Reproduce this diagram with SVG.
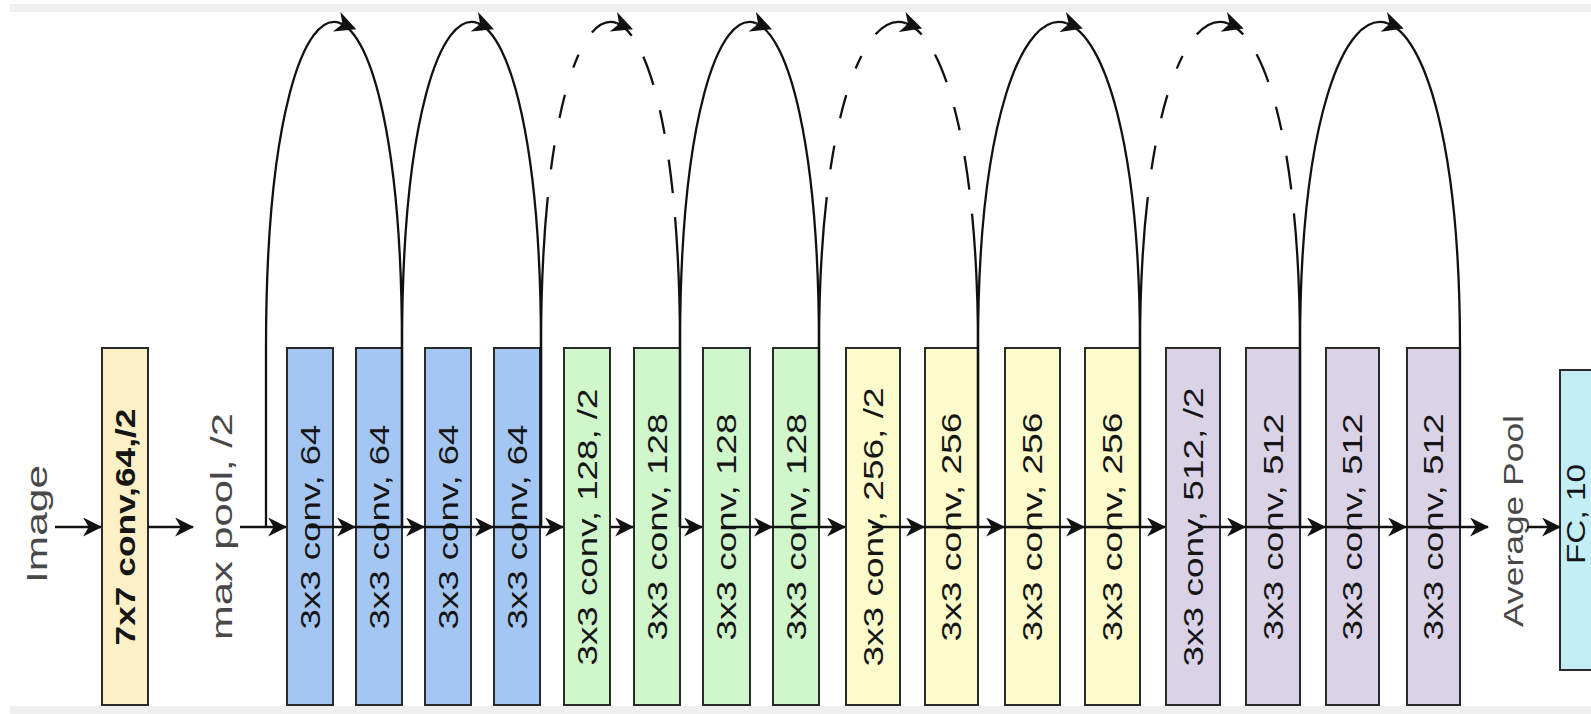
<svg xmlns="http://www.w3.org/2000/svg" width="1591" height="714" viewBox="0 0 1591 714">
<defs>
<marker id="arr" markerUnits="userSpaceOnUse" viewBox="0 0 17 17" markerWidth="19" markerHeight="19" refX="16" refY="8.5" orient="auto"><path d="M0,0 L17,8.5 L0,17 L5,8.5 Z" fill="#111"/></marker>
<marker id="arcArr" markerUnits="userSpaceOnUse" viewBox="0 0 17 17" markerWidth="21" markerHeight="21" refX="3" refY="8.5" orient="auto"><path d="M0,0 L17,8.5 L0,17 L5,8.5 Z" fill="#111"/></marker>
</defs>
<style>
.bx{stroke:#2a2a2a;stroke-width:2}
.beige{fill:#fcf0c6}
.blue{fill:#a4c6f2}
.green{fill:#d0f6cc}
.yel{fill:#fcfbcb}
.pur{fill:#dad3e7}
.cyan{fill:#c4eef6}
.t{font-family:"Liberation Sans",Arial,Helvetica,sans-serif;font-size:28px;fill:#151515;text-anchor:middle;dominant-baseline:central}
.b{font-weight:bold;font-size:28px}
.ext{fill:#484848;font-size:29px}
.ln{fill:none;stroke:#111;stroke-width:2.3}
.main{marker-end:url(#arr);stroke-width:2.5}
.arcL{marker-end:url(#arcArr)}
.dL{stroke-dasharray:330 28 24 28 24 28 14 26 80}
.dR{stroke-dasharray:20 24 30 26 24 26 34 24 1000}
</style>
<rect x="10" y="4" width="1581" height="8" fill="#efefef"/>
<rect x="10" y="706" width="1581" height="8" fill="#efefef"/>

<g id="label-image"><text class="t ext" transform="translate(37,524) rotate(-90)" textLength="118" lengthAdjust="spacingAndGlyphs">Image</text></g>
<g id="node-conv7"><rect class="bx beige" x="102" y="348" width="46" height="357"/><text class="t b" transform="translate(125,527) rotate(-90)" textLength="237" lengthAdjust="spacingAndGlyphs">7x7 conv,64,/2</text></g>
<g id="label-maxpool"><text class="t ext" transform="translate(222,526.5) rotate(-90)" textLength="227" lengthAdjust="spacingAndGlyphs">max pool, /2</text></g>

<g id="node-b1"><rect class="bx blue" x="287" y="348" width="46" height="357"/><text class="t" transform="translate(310,527) rotate(-90)" textLength="205" lengthAdjust="spacingAndGlyphs">3x3 conv, 64</text></g>
<g id="node-b2"><rect class="bx blue" x="356" y="348" width="46" height="357"/><text class="t" transform="translate(379,527) rotate(-90)" textLength="205" lengthAdjust="spacingAndGlyphs">3x3 conv, 64</text></g>
<g id="node-b3"><rect class="bx blue" x="425" y="348" width="46" height="357"/><text class="t" transform="translate(448,527) rotate(-90)" textLength="205" lengthAdjust="spacingAndGlyphs">3x3 conv, 64</text></g>
<g id="node-b4"><rect class="bx blue" x="494" y="348" width="46" height="357"/><text class="t" transform="translate(517,527) rotate(-90)" textLength="205" lengthAdjust="spacingAndGlyphs">3x3 conv, 64</text></g>

<g id="node-g1"><rect class="bx green" x="564" y="348" width="46" height="357"/><text class="t" transform="translate(587,527) rotate(-90)" textLength="277" lengthAdjust="spacingAndGlyphs">3x3 conv, 128, /2</text></g>
<g id="node-g2"><rect class="bx green" x="634" y="348" width="46" height="357"/><text class="t" transform="translate(657,527) rotate(-90)" textLength="227" lengthAdjust="spacingAndGlyphs">3x3 conv, 128</text></g>
<g id="node-g3"><rect class="bx green" x="703" y="348" width="47" height="357"/><text class="t" transform="translate(726.5,527) rotate(-90)" textLength="227" lengthAdjust="spacingAndGlyphs">3x3 conv, 128</text></g>
<g id="node-g4"><rect class="bx green" x="773" y="348" width="46" height="357"/><text class="t" transform="translate(796,527) rotate(-90)" textLength="227" lengthAdjust="spacingAndGlyphs">3x3 conv, 128</text></g>

<g id="node-y1"><rect class="bx yel" x="846" y="348" width="54" height="357"/><text class="t" transform="translate(873,527) rotate(-90)" textLength="279" lengthAdjust="spacingAndGlyphs">3x3 conv, 256, /2</text></g>
<g id="node-y2"><rect class="bx yel" x="925" y="348" width="53" height="357"/><text class="t" transform="translate(951.5,527) rotate(-90)" textLength="229" lengthAdjust="spacingAndGlyphs">3x3 conv, 256</text></g>
<g id="node-y3"><rect class="bx yel" x="1005" y="348" width="55" height="357"/><text class="t" transform="translate(1032.5,527) rotate(-90)" textLength="229" lengthAdjust="spacingAndGlyphs">3x3 conv, 256</text></g>
<g id="node-y4"><rect class="bx yel" x="1085" y="348" width="55" height="357"/><text class="t" transform="translate(1112.5,527) rotate(-90)" textLength="229" lengthAdjust="spacingAndGlyphs">3x3 conv, 256</text></g>

<g id="node-p1"><rect class="bx pur" x="1166" y="348" width="54" height="357"/><text class="t" transform="translate(1193,527) rotate(-90)" textLength="279" lengthAdjust="spacingAndGlyphs">3x3 conv, 512, /2</text></g>
<g id="node-p2"><rect class="bx pur" x="1246" y="348" width="54" height="357"/><text class="t" transform="translate(1273,527) rotate(-90)" textLength="227" lengthAdjust="spacingAndGlyphs">3x3 conv, 512</text></g>
<g id="node-p3"><rect class="bx pur" x="1326" y="348" width="53" height="357"/><text class="t" transform="translate(1352.5,527) rotate(-90)" textLength="227" lengthAdjust="spacingAndGlyphs">3x3 conv, 512</text></g>
<g id="node-p4"><rect class="bx pur" x="1407" y="348" width="53" height="357"/><text class="t" transform="translate(1433.5,527) rotate(-90)" textLength="227" lengthAdjust="spacingAndGlyphs">3x3 conv, 512</text></g>

<g id="label-avgpool"><text class="t ext" transform="translate(1514,521) rotate(-90)" textLength="212" lengthAdjust="spacingAndGlyphs" style="font-size:27px">Average Pool</text></g>
<g id="node-fc"><rect class="bx cyan" x="1560" y="370" width="60" height="300"/><text class="t" transform="translate(1576,514) rotate(-90)" textLength="100" lengthAdjust="spacingAndGlyphs" style="font-size:26px">FC, 10</text></g>

<g id="connectors">
<path class="ln main" d="M55,527 H101"/>
<path class="ln main" d="M148,527 H193"/>
<path class="ln main" d="M240,527 H286"/>
<path class="ln main" d="M309,527 H355"/>
<path class="ln main" d="M355,527 H424"/>
<path class="ln main" d="M424,527 H493"/>
<path class="ln main" d="M493,527 H563"/>
<path class="ln main" d="M611,527 H633"/>
<path class="ln main" d="M680,527 H702"/>
<path class="ln main" d="M721,527 H772"/>
<path class="ln main" d="M772,527 H845"/>
<path class="ln main" d="M872,527 H924"/>
<path class="ln main" d="M924,527 H1004"/>
<path class="ln main" d="M1004,527 H1084"/>
<path class="ln main" d="M1084,527 H1165"/>
<path class="ln main" d="M1198,527 H1245"/>
<path class="ln main" d="M1245,527 H1325"/>
<path class="ln main" d="M1325,527 H1406"/>
<path class="ln main" d="M1406,527 H1488"/>
<path class="ln main" d="M1527,527 H1560"/>

<path class="ln arcL" d="M266,527 V348 C266,117.6 304.2,9.3 340.1,23.1"/>
<path class="ln" d="M340.1,23.1 C372,35.4 402,143.7 402,348 V527"/>
<path class="ln arcL" d="M402,527 V348 C402,117.6 441,9.3 477.8,23.1"/>
<path class="ln" d="M477.8,23.1 C510.3,35.4 541,143.7 541,348 V527"/>
<path class="ln arcL dL" d="M541,527 V348 C541,117.6 580,9.3 616.8,23.1"/>
<path class="ln dR" d="M616.8,23.1 C649.3,35.4 680,143.7 680,348 V527"/>
<path class="ln arcL" d="M680,527 V348 C680,117.6 719,9.3 755.8,23.1"/>
<path class="ln" d="M755.8,23.1 C788.3,35.4 819,143.7 819,348 V527"/>
<path class="ln arcL dL" d="M819,527 V348 C819,117.6 863.7,9.3 905.7,23.1"/>
<path class="ln dR" d="M905.7,23.1 C942.9,35.4 978,143.7 978,348 V527"/>
<path class="ln arcL" d="M978,527 V348 C978,117.6 1023.5,9.3 1066.3,23.1"/>
<path class="ln" d="M1066.3,23.1 C1104.2,35.4 1140,143.7 1140,348 V527"/>
<path class="ln arcL dL" d="M1140,527 V348 C1140,117.6 1184.9,9.3 1227.2,23.1"/>
<path class="ln dR" d="M1227.2,23.1 C1264.7,35.4 1300,143.7 1300,348 V527"/>
<path class="ln arcL" d="M1300,527 V348 C1300,117.6 1344.9,9.3 1387.2,23.1"/>
<path class="ln" d="M1387.2,23.1 C1424.7,35.4 1460,143.7 1460,348 V527"/>
</g>
</svg>
